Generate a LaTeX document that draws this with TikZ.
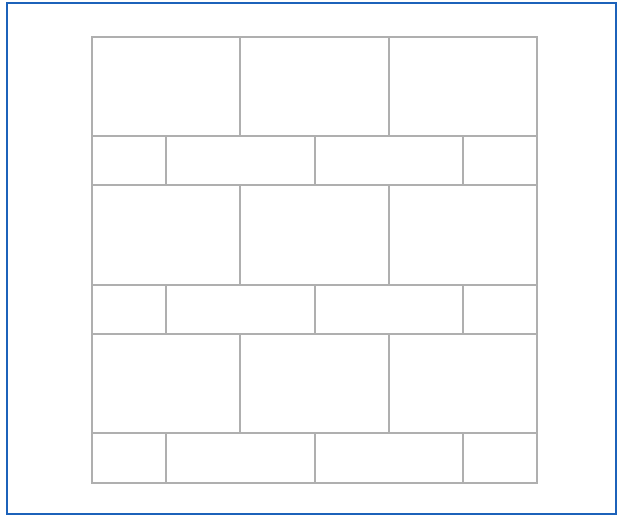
\documentclass[tikz,border=0pt]{standalone}
\usetikzlibrary{positioning}
\definecolor{frameblue}{RGB}{28,98,186}
\definecolor{jointgray}{RGB}{175,175,175}

\begin{document}
\begin{tikzpicture}[x=1pt, y=-1pt,
      frame/.style={draw=frameblue, line width=1.6pt},
      joint/.style={draw=jointgray, line width=1.1pt}
    ]
    \useasboundingbox (0,0) rectangle (619,516);
    \draw[frame] (7,3) rectangle (616,514);

    % brick courses: tall course, then short course
    \foreach \top/\mid/\bot in {37/136/185, 185/285/334, 334/433/483}{
      \draw[joint] (92,\top) rectangle (537,\mid);
      \draw[joint] (92,\mid) rectangle (537,\bot);
      \foreach \x in {240, 389}
        \draw[joint] (\x,\top) -- (\x,\mid);
      \foreach \x in {166, 315, 463}
        \draw[joint] (\x,\mid) -- (\x,\bot);
    }
  \end{tikzpicture}
\end{document}
